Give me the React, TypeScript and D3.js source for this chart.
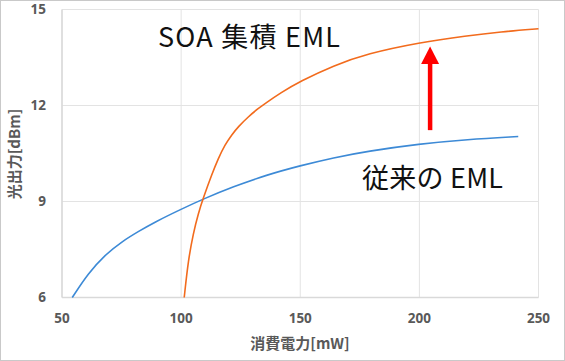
import * as d3 from "d3";

// 従来の EML
const baseX = [54.3, 61, 68, 75, 82, 89, 100, 109.3, 121.8, 135.8, 150, 164, 178, 200, 220, 241.5];
const baseY = [6.0, 6.76, 7.33, 7.74, 8.06, 8.36, 8.76, 9.08, 9.46, 9.83, 10.12, 10.37, 10.57, 10.8, 10.94, 11.03];

// SOA 集積 EML
const soaX = [101.3, 103.0, 105.1, 107.2, 109.5, 112.8, 115.6, 118.4, 121.2, 124, 128.2, 132.4, 135.2, 141.8, 150, 164, 178, 200, 220, 234, 250];
const soaY = [6.0, 7.17, 8.0, 8.63, 9.15, 9.83, 10.35, 10.77, 11.08, 11.34, 11.65, 11.91, 12.06, 12.4, 12.76, 13.25, 13.62, 13.97, 14.18, 14.3, 14.4];

const xTicks = [50, 100, 150, 200, 250];
const yTicks = [6, 9, 12, 15];

const W = 565;
const H = 361;

export default function App() {
  const x = d3.scaleLinear().domain([50, 250]).range([62, 538.5]);
  const y = d3.scaleLinear().domain([6, 15]).range([297.5, 9.5]);

  const line = d3
    .line<[number, number]>()
    .x((d) => x(d[0]))
    .y((d) => y(d[1]))
    .curve(d3.curveBasis);

  const basePts = baseX.map((v, i) => [v, baseY[i]] as [number, number]);
  const soaPts = soaX.map((v, i) => [v, soaY[i]] as [number, number]);

  // arrow (data units)
  const ax = x(204.5);
  const aBottom = y(11.23);
  const aHead = y(13.3);
  const aTip = y(13.84);

  const tickFont = "'Noto Sans', 'DejaVu Sans', sans-serif";
  const jpFont = "'Noto Sans CJK JP', 'Noto Sans', sans-serif";

  return (
    <svg
      width={W}
      height={H}
      style={{ position: "absolute", left: 0, top: 0, background: "#fff" }}
    >
      <rect x={0.5} y={0.5} width={W - 1} height={H - 1} fill="#fff" stroke="#c9c9c9" />

      {/* grid */}
      {xTicks.map((t) => (
        <line key={"gx" + t} x1={x(t)} x2={x(t)} y1={y(15)} y2={y(6)} stroke="#e3e3e3" strokeWidth={1} />
      ))}
      {yTicks.map((t) => (
        <line key={"gy" + t} x1={x(50)} x2={x(250)} y1={y(t)} y2={y(t)} stroke="#e3e3e3" strokeWidth={1} />
      ))}
      <line x1={x(50)} x2={x(250)} y1={y(6)} y2={y(6)} stroke="#d9d9d9" strokeWidth={1.5} />
      <line x1={x(50)} x2={x(50)} y1={y(15)} y2={y(6)} stroke="#d9d9d9" strokeWidth={1.5} />

      {/* tick labels */}
      {yTicks.map((t) => (
        <text
          key={"ty" + t}
          x={46}
          y={y(t)}
          dy="0.35em"
          textAnchor="end"
          fontFamily={tickFont}
          fontWeight="bold"
          fontSize={13.5}
          fill="#595959"
        >
          {t}
        </text>
      ))}
      {xTicks.map((t) => (
        <text
          key={"tx" + t}
          x={x(t)}
          y={318}
          dy="0.35em"
          textAnchor="middle"
          fontFamily={tickFont}
          fontWeight="bold"
          fontSize={13.5}
          fill="#595959"
        >
          {t}
        </text>
      ))}

      {/* axis titles */}
      <text
        x={300}
        y={349}
        textAnchor="middle"
        fontFamily={jpFont}
        fontWeight="bold"
        fontSize={15}
        fill="#595959"
      >
        消費電力[mW]
      </text>
      <text
        transform={`translate(20,154) rotate(-90)`}
        textAnchor="middle"
        fontFamily={jpFont}
        fontWeight="bold"
        fontSize={15}
        fill="#595959"
      >
        光出力[dBm]
      </text>

      {/* series */}
      <path d={line(basePts) ?? ""} fill="none" stroke="#3d8ad6" strokeWidth={1.6} />
      <path d={line(soaPts) ?? ""} fill="none" stroke="#f26b1d" strokeWidth={1.6} />

      {/* arrow */}
      <line x1={ax} x2={ax} y1={aBottom} y2={aHead} stroke="#ff0000" strokeWidth={4.5} />
      <path
        d={`M${ax - 9},${aHead} L${ax + 9},${aHead} L${ax},${aTip} Z`}
        fill="#ff0000"
      />

      {/* annotations */}
      <text
        x={158}
        y={46.5}
        fontFamily={jpFont}
        fontSize={27}
        fill="#111"
        textLength={182}
        lengthAdjust="spacing"
      >
        SOA 集積 EML
      </text>
      <text
        x={362}
        y={188}
        fontFamily={jpFont}
        fontSize={27}
        fill="#111"
        textLength={141}
        lengthAdjust="spacing"
      >
        従来の EML
      </text>
    </svg>
  );
}
